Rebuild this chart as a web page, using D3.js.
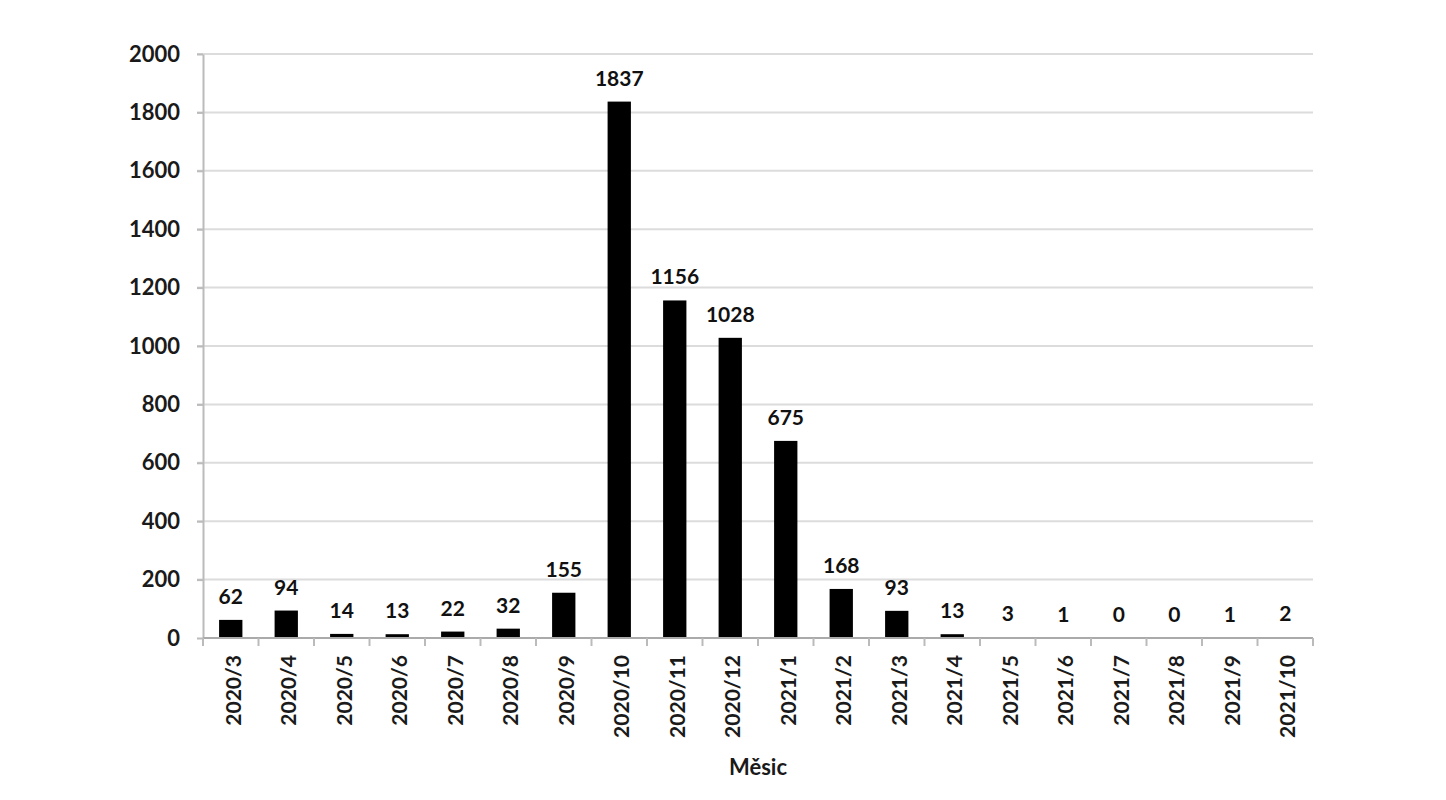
<!DOCTYPE html>
<html>
<head>
<meta charset="utf-8">
<script src="https://cdn.jsdelivr.net/npm/d3@7"></script>
<style>
  body { margin: 0; background: #fff; }
  .axis text { font-family: Lato, "Open Sans", sans-serif; font-weight: bold; fill: #1a1a1a; }
</style>
</head>
<body>
<div class="chart_box"></div>
<script>
var months = ["2020/3","2020/4","2020/5","2020/6","2020/7","2020/8","2020/9","2020/10","2020/11","2020/12",
              "2021/1","2021/2","2021/3","2021/4","2021/5","2021/6","2021/7","2021/8","2021/9","2021/10"];
var counts = [62, 94, 14, 13, 22, 32, 155, 1837, 1156, 1028, 675, 168, 93, 13, 3, 1, 0, 0, 1, 2];
var yTicks = [0, 200, 400, 600, 800, 1000, 1200, 1400, 1600, 1800, 2000];
var xTitle = "Měsic";

var margin = {top: 54, right: 133, bottom: 162, left: 203};
var W = 1446, H = 800;
var width = W - margin.left - margin.right;
var height = H - margin.top - margin.bottom;

var svg = d3.select(".chart_box")
  .append("svg")
  .attr("width", W)
  .attr("height", H);

var g = svg.append("g")
  .attr("transform", "translate(" + margin.left + "," + margin.top + ")");

var x = d3.scaleBand()
  .domain(months)
  .range([0, width])
  .paddingInner(0.58)
  .paddingOuter(0.29);

var y = d3.scaleLinear()
  .domain([0, 2000])
  .range([height, 0]);

// gridlines
g.selectAll("line.grid")
  .data(yTicks.filter(function(d){ return d > 0; }))
  .enter().append("line")
  .attr("class", "grid")
  .attr("x1", -6)
  .attr("x2", width)
  .attr("y1", function(d){ return y(d); })
  .attr("y2", function(d){ return y(d); })
  .style("stroke", "#dcdcdc")
  .style("stroke-width", 2);

// y axis
var yAxis = g.append("g")
  .attr("class", "y axis")
  .call(d3.axisLeft(y).tickValues(yTicks).tickFormat(d3.format("d"))
    .tickSize(6).tickPadding(17).tickSizeOuter(0));
yAxis.select(".domain").style("stroke", "#bbb").style("stroke-width", 2);
yAxis.selectAll(".tick line").style("stroke", "#bbb").style("stroke-width", 2);
yAxis.selectAll("text").style("font-size", "22px");

// bars
g.selectAll("rect.bar")
  .data(counts)
  .enter().append("rect")
  .attr("class", "bar")
  .attr("x", function(d, i){ return x(months[i]); })
  .attr("width", x.bandwidth())
  .attr("y", function(d){ return y(d); })
  .attr("height", function(d){ return height - y(d); })
  .style("fill", "#000");

// x axis, tick marks sit between categories
var xAxis = g.append("g")
  .attr("class", "x axis")
  .attr("transform", "translate(0," + height + ")");
xAxis.append("line")
  .attr("x1", 0).attr("x2", width)
  .style("stroke", "#aaa").style("stroke-width", 2);
var step = x.step();
var start = x(months[0]) - x.paddingOuter() * step;
xAxis.selectAll("line.sep")
  .data(d3.range(months.length + 1))
  .enter().append("line")
  .attr("class", "sep")
  .attr("x1", function(i){ return start + i * step; })
  .attr("x2", function(i){ return start + i * step; })
  .attr("y1", 0).attr("y2", 8)
  .style("stroke", "#bbb").style("stroke-width", 2);

xAxis.selectAll("text.lbl")
  .data(months)
  .enter().append("text")
  .attr("class", "lbl")
  .attr("transform", function(d){
    return "translate(" + (x(d) + x.bandwidth() / 2 + 10) + ",17) rotate(-90)";
  })
  .attr("text-anchor", "end")
  .style("font-size", "21px")
  .text(function(d){ return d; });

// value labels
g.selectAll("text.val")
  .data(counts)
  .enter().append("text")
  .attr("class", "val")
  .attr("x", function(d, i){ return x(months[i]) + x.bandwidth() / 2; })
  .attr("y", function(d){ return y(d) - 16; })
  .attr("text-anchor", "middle")
  .style("font-family", "Lato, 'Open Sans', sans-serif")
  .style("font-weight", "bold")
  .style("font-size", "21px")
  .style("fill", "#111")
  .text(function(d){ return d; });

// axis title
svg.append("text")
  .attr("x", margin.left + width / 2)
  .attr("y", 775)
  .attr("text-anchor", "middle")
  .style("font-family", "Lato, 'Open Sans', sans-serif")
  .style("font-weight", "bold")
  .style("font-size", "22px")
  .style("fill", "#1a1a1a")
  .text(xTitle);
</script>
</body>
</html>
